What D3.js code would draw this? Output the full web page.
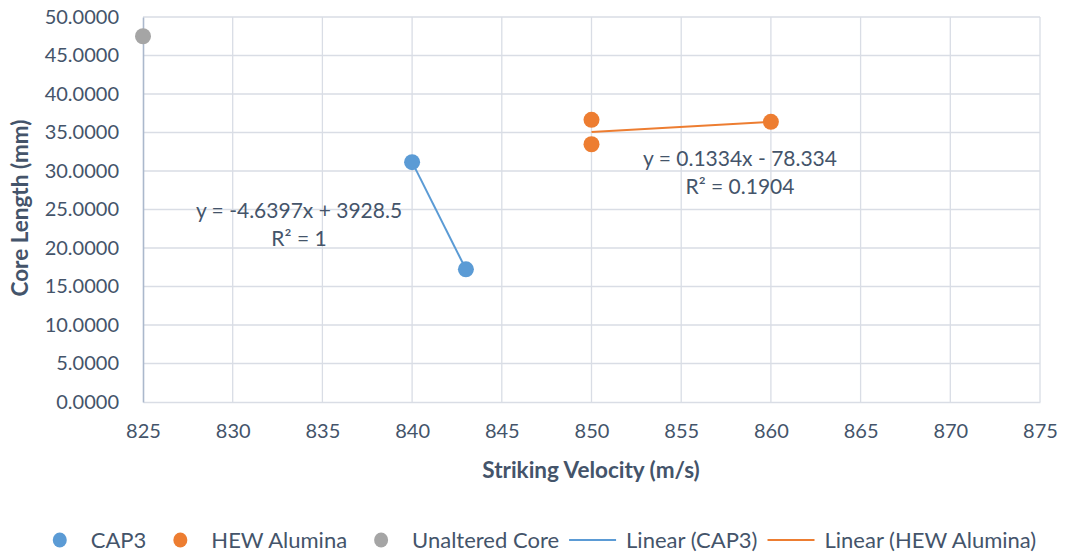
<!DOCTYPE html>
<html>
<head>
<meta charset="utf-8">
<script src="https://cdn.jsdelivr.net/npm/d3@7"></script>
<style>
  html, body { margin: 0; padding: 0; background: #fff; }
  svg { display: block; font-family: Lato, "Open Sans", sans-serif; }
</style>
</head>
<body>
<svg id="chart" width="1065" height="554"></svg>
<script>
// Core length measurements by striking velocity
const cap3Velocity = [840, 843];
const cap3Length = [31.15, 17.23];
const hewVelocity = [850, 850, 860];
const hewLength = [36.64, 33.47, 36.39];
const unalteredVelocity = [825];
const unalteredLength = [47.5];

// Linear fits shown on the chart
const cap3Fit = { slope: -4.6397, intercept: 3928.5, eq: "y = -4.6397x + 3928.5", r2: "R² = 1" };
const hewFit = { slope: 0.1334, intercept: -78.334, eq: "y = 0.1334x - 78.334", r2: "R² = 0.1904" };

const xTicks = [825, 830, 835, 840, 845, 850, 855, 860, 865, 870, 875];
const yTicks = [0, 5, 10, 15, 20, 25, 30, 35, 40, 45, 50];

const colors = { cap3: "#5B9BD5", hew: "#ED7D31", unaltered: "#A5A5A5" };
const textColor = "#44546A";
const gridColor = "#D9DDE5";

const svg = d3.select("#chart");
const plot = { left: 143, right: 1040, top: 17, bottom: 402 };

const x = d3.scaleLinear().domain([825, 875]).range([plot.left, plot.right]);
const y = d3.scaleLinear().domain([0, 50]).range([plot.bottom, plot.top]);

// Gridlines
const grid = svg.append("g");
grid.selectAll("line.v").data(xTicks.slice(1)).join("line")
  .attr("x1", d => x(d)).attr("x2", d => x(d))
  .attr("y1", plot.top).attr("y2", plot.bottom)
  .attr("stroke", gridColor).attr("stroke-width", 1.3);
grid.selectAll("line.h").data(yTicks.slice(1)).join("line")
  .attr("x1", plot.left).attr("x2", plot.right)
  .attr("y1", d => y(d)).attr("y2", d => y(d))
  .attr("stroke", gridColor).attr("stroke-width", 1.3);

// Axes
const xAxis = d3.axisBottom(x).tickValues(xTicks).tickSize(0).tickPadding(22).tickFormat(d3.format("d"));
const yAxis = d3.axisLeft(y).tickValues(yTicks).tickSize(0).tickPadding(24).tickFormat(d3.format(".4f"));

const gx = svg.append("g").attr("transform", `translate(0,${plot.bottom})`).call(xAxis);
gx.select(".domain").attr("stroke", gridColor).attr("stroke-width", 1.3);
const gy = svg.append("g").attr("transform", `translate(${plot.left},0)`).call(yAxis);
gy.select(".domain").attr("stroke", "#ABB8CC").attr("stroke-width", 1.6);

svg.selectAll(".tick text")
  .attr("fill", textColor)
  .style("font-size", "20px")
  .style("font-family", "Lato, sans-serif");

// Axis titles
svg.append("text")
  .attr("x", 591).attr("y", 478)
  .attr("text-anchor", "middle")
  .attr("fill", textColor).style("font-size", "22.5px").style("font-weight", "bold")
  .text("Striking Velocity (m/s)");
svg.append("text")
  .attr("transform", `translate(28,208) rotate(-90)`)
  .attr("text-anchor", "middle")
  .attr("fill", textColor).style("font-size", "22.5px").style("font-weight", "bold")
  .text("Core Length (mm)");

// Trendlines over each series' velocity range
function trend(fit, xs, color) {
  const x0 = d3.min(xs), x1 = d3.max(xs);
  svg.append("line")
    .attr("x1", x(x0)).attr("y1", y(fit.slope * x0 + fit.intercept))
    .attr("x2", x(x1)).attr("y2", y(fit.slope * x1 + fit.intercept))
    .attr("stroke", color).attr("stroke-width", 2);
}
trend(cap3Fit, cap3Velocity, colors.cap3);
trend(hewFit, hewVelocity, colors.hew);

// Points
function points(xs, ys, color) {
  svg.append("g").selectAll("circle").data(xs.map((v, i) => [v, ys[i]])).join("circle")
    .attr("cx", d => x(d[0])).attr("cy", d => y(d[1])).attr("r", 8)
    .attr("fill", color);
}
points(cap3Velocity, cap3Length, colors.cap3);
points(hewVelocity, hewLength, colors.hew);
points(unalteredVelocity, unalteredLength, colors.unaltered);

// Trendline equations
function label(fit, cx, cy) {
  const t = svg.append("text").attr("text-anchor", "middle").attr("fill", textColor).style("font-size", "21px");
  t.append("tspan").attr("x", cx).attr("y", cy).text(fit.eq);
  t.append("tspan").attr("x", cx).attr("y", cy + 28).text(fit.r2);
}
label(cap3Fit, 299, 218);
label(hewFit, 740, 166);

// Legend
const legendItems = [
  { type: "dot", color: colors.cap3, text: "CAP3" },
  { type: "dot", color: colors.hew, text: "HEW Alumina" },
  { type: "dot", color: colors.unaltered, text: "Unaltered Core" },
  { type: "line", color: colors.cap3, text: "Linear (CAP3)" },
  { type: "line", color: colors.hew, text: "Linear (HEW Alumina)" }
];
const legend = svg.append("g");
const ly = 540;
let cursor = 0;
legendItems.forEach((item, i) => {
  const g = legend.append("g").attr("transform", `translate(${cursor},0)`);
  let sym, gap;
  if (item.type === "dot") {
    g.append("ellipse").attr("cx", 7).attr("cy", ly).attr("rx", 7).attr("ry", 7.5).attr("fill", item.color);
    sym = 14; gap = 24;
  } else {
    g.append("line").attr("x1", 0).attr("x2", 47).attr("y1", ly).attr("y2", ly)
      .attr("stroke", item.color).attr("stroke-width", 2);
    sym = 47; gap = 10;
  }
  const t = g.append("text").attr("x", sym + gap).attr("y", ly + 8)
    .attr("fill", textColor).style("font-size", "22px").text(item.text);
  const next = legendItems[i + 1];
  const after = next && next.type === "dot" ? 27 : 10;
  cursor += sym + gap + t.node().getComputedTextLength() + (next ? after : 0);
});
legend.attr("transform", `translate(${(1065 - cursor) / 2 + 12},0)`);
</script>
</body>
</html>
